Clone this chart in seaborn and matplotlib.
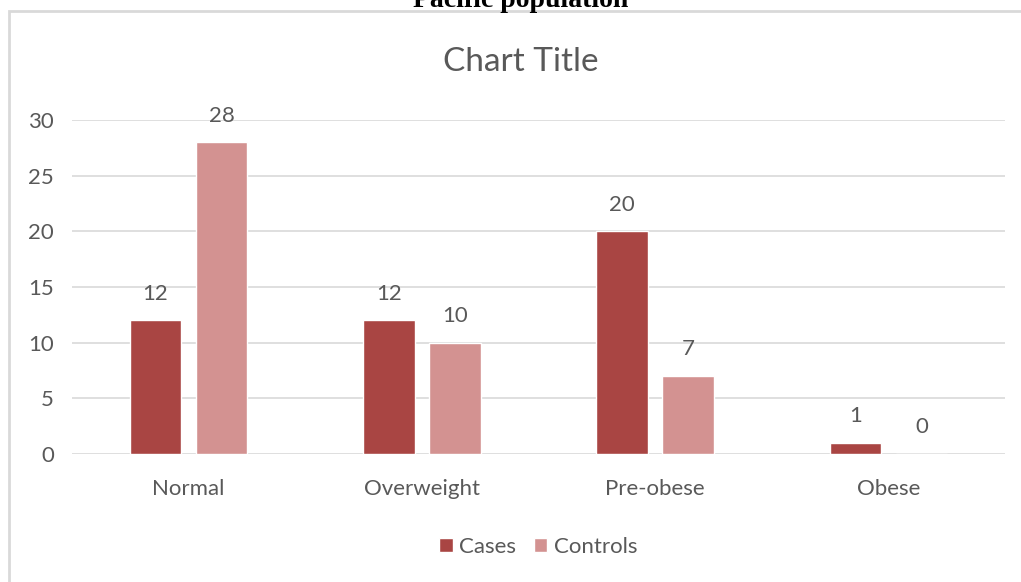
"""Grouped bar chart: BMI categories, cases vs controls."""

import matplotlib.pyplot as plt
import matplotlib.patches as mpatches
import seaborn as sns
import pandas as pd

categories = ["Normal", "Overweight", "Pre-obese", "Obese"]
cases = [12, 12, 20, 1]
controls = [28, 10, 7, 0]
series_names = ["Cases", "Controls"]
colors = ["#A94543", "#D39291"]

W, H = 1021, 582

sns.set_style("white")
plt.rcParams["font.family"] = ["Lato", "DejaVu Sans"]

df = pd.DataFrame({
    "category": categories * 2,
    "value": cases + controls,
    "series": [series_names[0]] * len(categories) + [series_names[1]] * len(categories),
})

fig = plt.figure(figsize=(W / 100, H / 100), dpi=100)
ax = fig.add_axes([72 / W, 1 - 454 / H, (1005 - 72) / W, (454 - 120) / H])

sns.barplot(
    data=df, x="category", y="value", hue="series",
    palette=colors, width=0.567, gap=0.22, ax=ax, legend=True,
    saturation=1,
)

ax.set_ylim(0, 30)
ax.set_xlim(-0.5, 3.5)
ax.set_yticks(range(0, 31, 5))
ax.yaxis.grid(True, color="#D9D9D9", linewidth=1.2)
ax.set_axisbelow(True)
for s in ax.spines.values():
    s.set_visible(False)
ax.tick_params(axis="both", length=0, labelsize=16, labelcolor="#595959")
ax.tick_params(axis="y", pad=13)
ax.tick_params(axis="x", pad=18)
ax.set_xlabel("")
ax.set_ylabel("")

for cont in ax.containers:
    ax.bar_label(cont, fmt="%d", padding=12, fontsize=16, color="#595959")

handles, labels = ax.get_legend_handles_labels()
ax.legend(
    handles, labels, loc="center", bbox_to_anchor=(0.5, 1 - (547 - 120) / (454 - 120)),
    ncol=2, frameon=False, fontsize=16, labelcolor="#595959",
    handlelength=0.6, handleheight=0.6, handletextpad=0.3, columnspacing=0.8,
)

fig.text(521 / W, 1 - 62 / H, "Chart Title", ha="center", va="center",
         fontsize=24, color="#595959")

# surrounding chart border (partially cropped in the source)
fig.patches.append(mpatches.Rectangle(
    (9 / W, -0.1), 1.2, 1 - 11 / H + 0.1, transform=fig.transFigure,
    fill=False, edgecolor="#D9D9D9", linewidth=2, figure=fig))

# heading above the chart, cropped at the top edge as in the source
fig.text(521 / W, 1 - 7 / H, "Pacific population", ha="center", va="baseline",
         fontsize=20, fontweight="bold", family="Liberation Serif", color="black")

fig.savefig("out.png", dpi=100)
